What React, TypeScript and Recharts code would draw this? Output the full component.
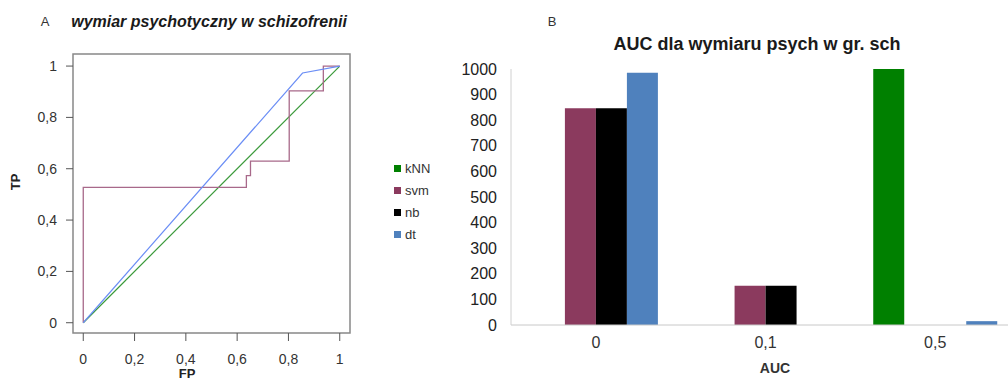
import React from "react";
import {
  LineChart,
  Line,
  XAxis,
  YAxis,
  ReferenceArea,
  BarChart,
  Bar,
} from "recharts";

// ---------- Panel A: ROC curves ----------
const rocTicks = [0, 0.2, 0.4, 0.6, 0.8, 1];

const knnFP = [0, 1];
const knnTP = [0, 1];

const svmFP = [0, 0, 0.636, 0.636, 0.652, 0.652, 0.803, 0.803, 0.936, 0.936, 1];
const svmTP = [0, 0.527, 0.527, 0.573, 0.573, 0.63, 0.63, 0.903, 0.903, 1, 1];

const dtFP = [0, 0.855, 1];
const dtTP = [0, 0.973, 1];

// ---------- Panel B: AUC counts ----------
const aucCategories = ["0", "0,1", "0,5"];
const knnCounts = [0, 0, 1000];
const svmCounts = [847, 153, 0];
const nbCounts = [847, 153, 0];
const dtCounts = [985, 0, 15];
const countTicks = [0, 100, 200, 300, 400, 500, 600, 700, 800, 900, 1000];

const seriesNames = ["kNN", "svm", "nb", "dt"];
const barColors = ["#008000", "#8B3A5E", "#000000", "#4F81BD"];

const FONT = '"Liberation Sans", Arial, Helvetica, sans-serif';

const toPoints = (xs: number[], ys: number[]) => xs.map((x, i) => ({ x, y: ys[i] }));
const knnRoc = toPoints(knnFP, knnTP);
const svmRoc = toPoints(svmFP, svmTP);
const dtRoc = toPoints(dtFP, dtTP);

const barData = aucCategories.map((c, i) => ({
  cat: c,
  kNN: knnCounts[i],
  svm: svmCounts[i],
  nb: nbCounts[i],
  dt: dtCounts[i],
}));

const comma = (v: number) => String(v).replace(".", ",");

const Txt = ({
  x,
  y,
  children,
  size,
  bold,
  italic,
  color = "#222",
  rotate,
}: {
  x: number;
  y: number;
  children: React.ReactNode;
  size: number;
  bold?: boolean;
  italic?: boolean;
  color?: string;
  rotate?: number;
}) => (
  <div
    style={{
      position: "absolute",
      left: x,
      top: y,
      transform: `translate(-50%, -50%)${rotate ? ` rotate(${rotate}deg)` : ""}`,
      fontFamily: FONT,
      fontSize: size,
      fontWeight: bold ? 700 : 400,
      fontStyle: italic ? "italic" : "normal",
      color,
      whiteSpace: "nowrap",
      lineHeight: 1,
    }}
  >
    {children}
  </div>
);

export default function App() {
  return (
    <div
      style={{
        position: "fixed",
        left: 0,
        top: 0,
        width: 1008,
        height: 381,
        overflow: "hidden",
        background: "#fff",
      }}
    >
      {/* Panel A */}
      <div style={{ position: "absolute", left: 0, top: 0 }}>
        <LineChart
          width={360}
          height={381}
          margin={{ top: 54, right: 10, left: 13, bottom: 8 }}
        >
          <XAxis
            type="number"
            dataKey="x"
            domain={[-0.04, 1.04]}
            ticks={rocTicks}
            tickFormatter={comma}
            axisLine={false}
            tickSize={8}
            tickMargin={13}
            tickLine={{ stroke: "#555" }}
            tick={{ fontSize: 14, fill: "#333", fontFamily: FONT }}
            height={40}
            allowDataOverflow
          />
          <YAxis
            type="number"
            dataKey="y"
            domain={[-0.04, 1.047]}
            ticks={rocTicks}
            tickFormatter={comma}
            axisLine={false}
            tickSize={7}
            tickMargin={9}
            tickLine={{ stroke: "#555" }}
            tick={{ fontSize: 14, fill: "#333", fontFamily: FONT }}
            width={60}
            allowDataOverflow
          />
          <ReferenceArea
            x1={-0.04}
            x2={1.04}
            y1={-0.04}
            y2={1.047}
            fill="none"
            fillOpacity={0}
            stroke="#888"
            strokeWidth={1.5}
          />
          <Line
            data={knnRoc}
            dataKey="y"
            type="linear"
            stroke="#3a9a3a"
            strokeWidth={1.2}
            dot={false}
            isAnimationActive={false}
          />
          <Line
            data={svmRoc}
            dataKey="y"
            type="linear"
            stroke="#a8698a"
            strokeWidth={1.3}
            dot={false}
            isAnimationActive={false}
          />
          <Line
            data={dtRoc}
            dataKey="y"
            type="linear"
            stroke="#6b8ef5"
            strokeWidth={1.2}
            dot={false}
            isAnimationActive={false}
          />
        </LineChart>
      </div>
      <Txt x={45} y={21} size={13} color="#333">A</Txt>
      <Txt x={209} y={22} size={16} bold italic color="#1a1a1a">
        wymiar psychotyczny w schizofrenii
      </Txt>
      <Txt x={15} y={182} size={13} bold rotate={-90}>TP</Txt>
      <Txt x={187} y={373} size={13} bold>FP</Txt>

      {/* Legend */}
      <div style={{ position: "absolute", left: 394, top: 157 }}>
        {seriesNames.map((n, i) => (
          <div
            key={n}
            style={{
              display: "flex",
              alignItems: "center",
              height: 22,
              fontFamily: FONT,
              fontSize: 13,
              color: "#333",
            }}
          >
            <span
              style={{
                display: "inline-block",
                width: 7,
                height: 7,
                background: barColors[i],
                marginRight: 4,
              }}
            />
            {n}
          </div>
        ))}
      </div>

      {/* Panel B */}
      <div style={{ position: "absolute", left: 450, top: 0 }}>
        <BarChart
          width={570}
          height={381}
          data={barData}
          margin={{ top: 69, right: 0, left: 1, bottom: 26 }}
          barCategoryGap="13.5%"
          barGap={0}
        >
          <XAxis
            dataKey="cat"
            axisLine={{ stroke: "#c8c8c8" }}
            tickLine={false}
            tickSize={0}
            tickMargin={12}
            tick={{ fontSize: 16, fill: "#333", fontFamily: FONT }}
            height={30}
          />
          <YAxis
            domain={[0, 1000]}
            ticks={countTicks}
            axisLine={{ stroke: "#d0d0d0" }}
            tickLine={false}
            tickSize={0}
            tickMargin={14}
            tick={{ fontSize: 16, fill: "#222", fontFamily: FONT }}
            width={60}
            interval={0}
          />
          {seriesNames.map((n, i) => (
            <Bar
              key={n}
              dataKey={n}
              fill={barColors[i]}
              isAnimationActive={false}
            />
          ))}
        </BarChart>
      </div>
      <Txt x={552} y={21} size={13} color="#333">B</Txt>
      <Txt x={757} y={44} size={18} bold color="#1a1a1a">
        AUC dla wymiaru psych w gr. sch
      </Txt>
      <Txt x={775} y={368} size={14} bold color="#333">AUC</Txt>
    </div>
  );
}
